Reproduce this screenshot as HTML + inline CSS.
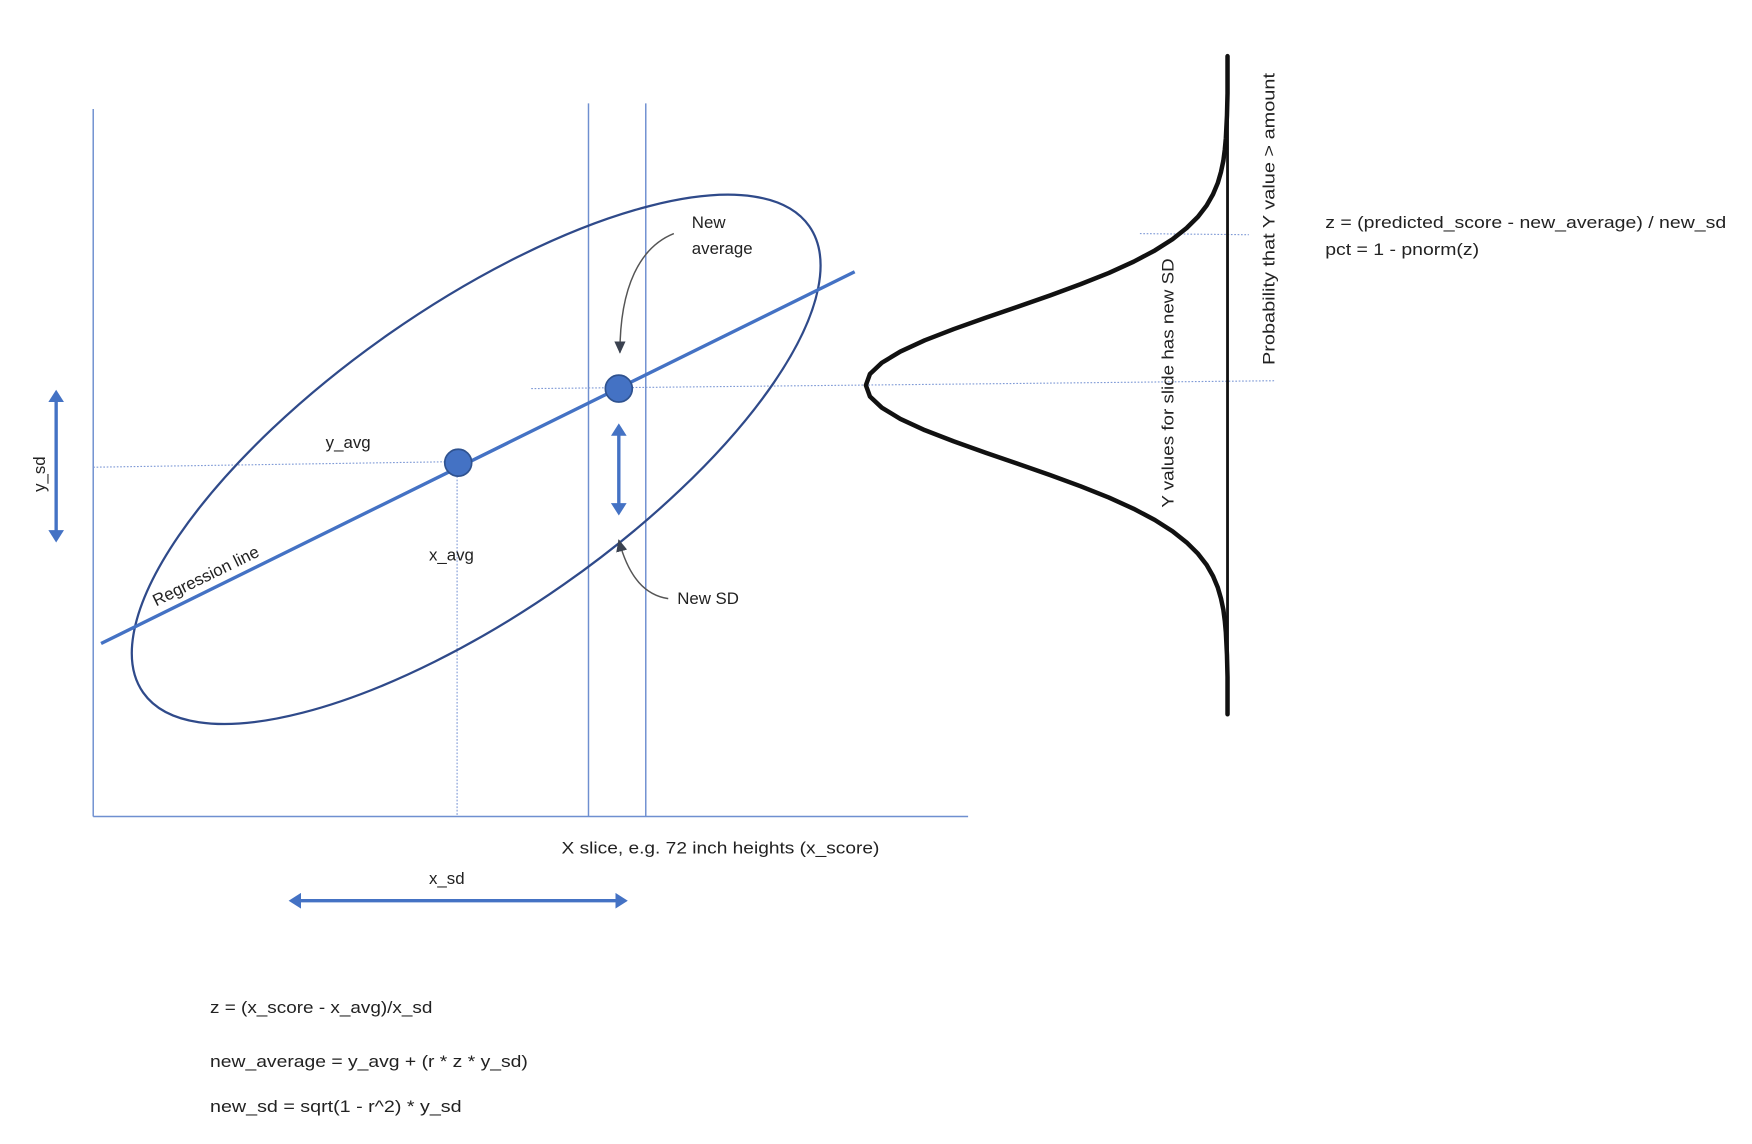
<!DOCTYPE html>
<html><head><meta charset="utf-8"><style>
html,body{margin:0;padding:0;background:#fff;}
svg{display:block;}
text{font-family:"Liberation Sans",sans-serif;font-size:15px;fill:#222;}
</style></head><body>
<svg width="1752" height="1144" viewBox="0 0 1560 1018.6" preserveAspectRatio="none" xmlns="http://www.w3.org/2000/svg">
<defs>
<marker id="ab" markerWidth="12" markerHeight="14" refX="8" refY="7" orient="auto-start-reverse" markerUnits="userSpaceOnUse"><path d="M0,0 L11,7 L0,14 z" fill="#4472c4"/></marker>
<marker id="ag" markerWidth="12" markerHeight="12" refX="10" refY="6" orient="auto" markerUnits="userSpaceOnUse"><path d="M0,1 L11,6 L0,11 z" fill="#3b4250"/></marker>
</defs>
<g stroke="#6f8fd0" stroke-width="1.3" fill="none">
<line x1="83" y1="97" x2="83" y2="727"/>
<line x1="83" y1="727" x2="862" y2="727"/>
<line x1="524" y1="92" x2="524" y2="727"/>
<line x1="575" y1="92" x2="575" y2="727"/>
</g>
<g stroke="#7f9ad6" stroke-width="1" stroke-dasharray="1.5,1.5" fill="none">
<line x1="407" y1="412" x2="407" y2="727"/>
<line x1="83" y1="416" x2="408" y2="411"/>
<line x1="473" y1="346" x2="1135" y2="339"/>
<line x1="1015" y1="208" x2="1112" y2="209"/>
</g>
<ellipse cx="424" cy="409" rx="362" ry="136" transform="rotate(-35 424 409)" fill="none" stroke="#2f4a8a" stroke-width="2"/>
<line x1="90" y1="573" x2="761" y2="242" stroke="#4472c4" stroke-width="3"/>
<circle cx="408" cy="412" r="12" fill="#4472c4" stroke="#2f528f" stroke-width="1.5"/>
<circle cx="551" cy="346" r="12" fill="#4472c4" stroke="#2f528f" stroke-width="1.5"/>
<g stroke="#4472c4" stroke-width="3" marker-start="url(#ab)" marker-end="url(#ab)">
<line x1="551" y1="380" x2="551" y2="456"/>
<line x1="50" y1="350" x2="50" y2="480"/>
<line x1="260" y1="802" x2="556" y2="802"/>
</g>
<path d="M600,208 C570,220 552,255 552,314" fill="none" stroke="#555" stroke-width="1.3" marker-end="url(#ag)"/>
<path d="M595,533 C575,530 560,515 551,481" fill="none" stroke="#555" stroke-width="1.3" marker-end="url(#ag)"/>
<line x1="1093" y1="50" x2="1093" y2="636" stroke="#111" stroke-width="2.5"/>
<polyline fill="none" stroke="#111" stroke-width="4" stroke-linejoin="round" stroke-linecap="round" points="1093,50 1093,83 1092.5,103 1091.5,123 1090.6,133 1089.3,143 1087.2,153 1084.3,163 1080.1,173 1074.4,183 1066.7,193 1056.6,203 1044,213 1028.3,223 1009.4,233 987.4,243 962.3,253 935.2,263 906.5,273 877.3,283 849.3,293 823.4,303 801.7,313 785.2,323 774.6,333 771,343 774.6,353 785.2,363 801.7,373 823.4,383 849.3,393 877.3,403 906.5,413 935.2,423 962.3,433 987.4,443 1009.4,453 1028.3,463 1044,473 1056.6,483 1066.7,493 1074.4,503 1080.1,513 1084.3,523 1087.2,533 1089.3,543 1090.6,553 1091.5,563 1092.5,583 1093,603 1093,636"/>
<text x="616" y="203">New</text>
<text x="616" y="226">average</text>
<text x="290" y="399">y_avg</text>
<text x="382" y="499">x_avg</text>
<text x="603" y="538">New SD</text>
<text transform="translate(139,540) rotate(-26)">Regression line</text>
<text transform="translate(40,438) rotate(-90)">y_sd</text>
<text x="500" y="760" textLength="283" lengthAdjust="spacingAndGlyphs">X slice, e.g. 72 inch heights (x_score)</text>
<text x="382" y="787">x_sd</text>
<text x="187" y="902" textLength="198" lengthAdjust="spacingAndGlyphs">z = (x_score - x_avg)/x_sd</text>
<text x="187" y="950" textLength="283" lengthAdjust="spacingAndGlyphs">new_average = y_avg + (r * z * y_sd)</text>
<text x="187" y="990" textLength="224" lengthAdjust="spacingAndGlyphs">new_sd = sqrt(1 - r^2) * y_sd</text>
<text x="1180" y="203" textLength="357" lengthAdjust="spacingAndGlyphs">z = (predicted_score - new_average) / new_sd</text>
<text x="1180" y="227" textLength="137" lengthAdjust="spacingAndGlyphs">pct = 1 - pnorm(z)</text>
<text transform="translate(1045,452) rotate(-90)" textLength="222" lengthAdjust="spacingAndGlyphs">Y values for slide has new SD</text>
<text transform="translate(1135,325) rotate(-90)" textLength="260" lengthAdjust="spacingAndGlyphs">Probability that Y value &gt; amount</text>
</svg>
</body></html>
